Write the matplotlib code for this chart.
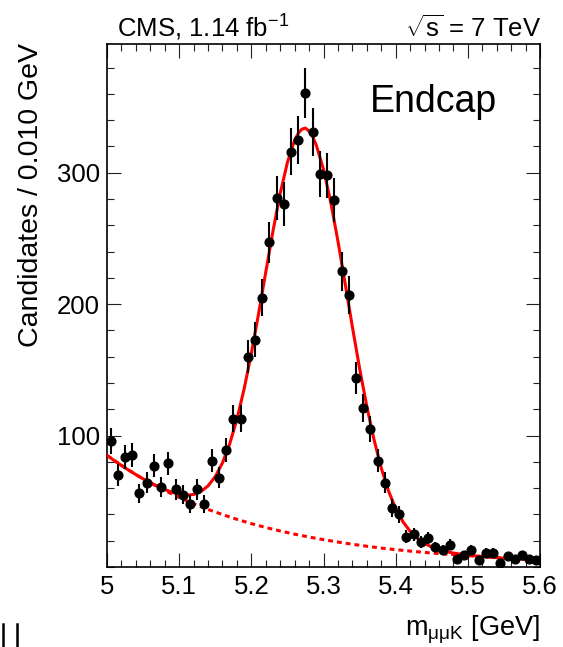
import numpy as np
import matplotlib
matplotlib.use('Agg')
import matplotlib.pyplot as plt
from matplotlib.ticker import MultipleLocator, FixedLocator
from matplotlib.lines import Line2D

plt.rcParams['font.family'] = ['Liberation Sans', 'DejaVu Sans']
plt.rcParams['mathtext.fontset'] = 'custom'
plt.rcParams['mathtext.rm'] = 'Liberation Sans'
plt.rcParams['mathtext.it'] = 'Liberation Sans:italic'
plt.rcParams['mathtext.bf'] = 'Liberation Sans:bold'

# data: B+ -> J/psi K+ candidates, endcap, 0.010 GeV bins from 5.0 to 5.6
bin_lo = 5.0
bin_width = 0.010
counts = [96, 70, 84, 85, 56, 64, 77, 61, 79, 59,
          55, 48, 59, 48, 81, 68, 89, 113, 113, 160,
          173, 205, 247, 281, 276, 316, 325, 361, 331, 299,
          298, 279, 225, 207, 144, 121, 105, 81, 64, 45,
          40, 23, 25, 19, 22, 15, 13, 17, 6, 9,
          13, 5, 11, 11, 3, 8, 6, 9, 6, 5]

# fit curves
fit_mass = [5.00, 5.01, 5.02, 5.03, 5.04, 5.05, 5.06, 5.07, 5.08, 5.09,
            5.10, 5.11, 5.12, 5.13, 5.14, 5.15, 5.16, 5.17, 5.18, 5.19,
            5.20, 5.21, 5.22, 5.23, 5.24, 5.25, 5.26, 5.265, 5.27, 5.275,
            5.28, 5.285, 5.29, 5.30, 5.31, 5.32, 5.33, 5.34, 5.35, 5.36,
            5.37, 5.38, 5.39, 5.40, 5.41, 5.42, 5.43, 5.44, 5.45, 5.46,
            5.47, 5.48, 5.49, 5.50, 5.51, 5.52, 5.53, 5.54, 5.55, 5.56,
            5.57, 5.58, 5.59, 5.60]
fit_total = [85.0, 81.0, 77.3, 73.7, 70.3, 67.1, 64.2, 61.5, 59.0, 56.9,
             55.4, 54.7, 55.2, 57.4, 61.7, 68.8, 79.2, 93.7, 112.4, 135.5,
             162.5, 192.6, 224.4, 255.6, 284.3, 307.9, 324.8, 330.0, 333.2, 334.0,
             331.6, 327.5, 321.0, 302.6, 277.7, 248.0, 215.7, 182.8, 151.2, 122.3,
             96.9, 75.4, 58.0, 44.5, 34.5, 27.2, 21.9, 18.0, 15.2, 13.2,
             11.7, 10.6, 9.8, 9.1, 8.5, 8.0, 7.5, 7.1, 6.7, 6.4,
             6.1, 5.8, 5.6, 5.4]
bkg_mass = [5.00, 5.02, 5.04, 5.06, 5.08, 5.10, 5.12, 5.14, 5.16, 5.18,
            5.20, 5.22, 5.24, 5.26, 5.28, 5.30, 5.32, 5.34, 5.36, 5.38,
            5.40, 5.42, 5.44, 5.46, 5.48, 5.50, 5.52, 5.54, 5.56, 5.58, 5.60]
bkg_total = [85.0, 77.3, 70.3, 64.0, 58.2, 52.9, 48.1, 43.8, 39.9, 36.3,
             33.0, 30.1, 27.4, 25.0, 22.8, 20.8, 19.0, 17.3, 15.8, 14.4,
             13.2, 12.1, 11.1, 10.2, 9.4, 8.6, 7.9, 7.2, 6.6, 6.0, 5.5]

counts = np.array(counts, dtype=float)
centers = bin_lo + bin_width * (np.arange(len(counts)) + 0.5)
errors = np.sqrt(counts)

fig = plt.figure(figsize=(5.63, 6.47), dpi=100)
ax = fig.add_axes([107 / 563, 80 / 647, 433 / 563, 523 / 647])

ax.plot(bkg_mass, bkg_total, color='red', lw=2.2, linestyle=(0, (1.6, 1.3)), zorder=2)
ax.plot(fit_mass, fit_total, color='red', lw=2.2, zorder=3)
ax.errorbar(centers, counts, yerr=errors, fmt='o', color='black', ms=6.3,
            elinewidth=1.5, capsize=0, zorder=4)

ax.set_xlim(5.0, 5.6)
ax.set_ylim(0, 398)
ax.xaxis.set_major_locator(MultipleLocator(0.1))
ax.xaxis.set_minor_locator(MultipleLocator(0.02))
ax.yaxis.set_major_locator(FixedLocator([100, 200, 300]))
ax.yaxis.set_minor_locator(MultipleLocator(20))
ax.set_xticks([5.0, 5.1, 5.2, 5.3, 5.4, 5.5, 5.6])
ax.set_xticklabels(['5', '5.1', '5.2', '5.3', '5.4', '5.5', '5.6'])

ax.tick_params(which='both', direction='in', top=True, right=True, width=0.8,
               labelsize=18.5, color='#222222')
ax.tick_params(which='major', length=10)
ax.tick_params(which='minor', length=5)
ax.tick_params(axis='x', pad=6)
ax.tick_params(axis='y', pad=5)
for s in ax.spines.values():
    s.set_linewidth(1.2)

fig.text(31 / 563, 1 - 43 / 647, 'Candidates / 0.010 GeV', rotation=90,
         ha='center', va='top', fontsize=20.5)
fig.text(540 / 563, 1 - 636 / 647, r'm$_{\mathregular{μμK}}$ [GeV]',
         ha='right', va='baseline', fontsize=19.5)

fig.text(117 / 563, 1 - 37 / 647, r'CMS, 1.14 fb$^{\mathregular{-1}}$',
         ha='left', va='baseline', fontsize=18.5)
fig.text(541 / 563, 1 - 37 / 647, r'$\sqrt{\mathregular{s}}$ = 7 TeV',
         ha='right', va='baseline', fontsize=18.5)
fig.text(370 / 563, 1 - 112 / 647, 'Endcap', ha='left', va='baseline',
         fontsize=27)

# stray marks at the lower-left edge of the page
for xp in (3, 17):
    fig.add_artist(Line2D([xp / 563, xp / 563], [1 - 647 / 647, 1 - 624 / 647],
                          color='black', lw=1.8))

fig.savefig('out.png', dpi=100)
